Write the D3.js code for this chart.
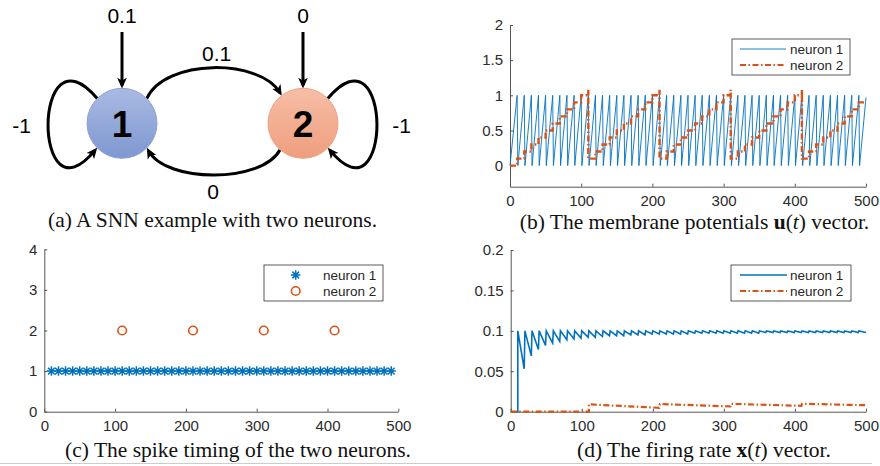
<!DOCTYPE html>
<html>
<head>
<meta charset="utf-8">
<script src="https://cdn.jsdelivr.net/npm/d3@7"></script>
<style>
  body { margin: 0; background: #fff; }
  svg { display: block; }
</style>
</head>
<body>
<svg id="fig" width="880" height="466"></svg>
<script>
// ---- data ----
const timeTicks = [0, 100, 200, 300, 400, 500];
const seriesNames = ["neuron 1", "neuron 2"];

// spike times (panel c)
const spikes1 = [10, 20, 30, 40, 50, 60, 70, 80, 90, 100, 110, 120, 130, 140, 150, 160, 170, 180, 190, 200,
  210, 220, 230, 240, 250, 260, 270, 280, 290, 300, 310, 320, 330, 340, 350, 360, 370, 380, 390, 400,
  410, 420, 430, 440, 450, 460, 470, 480, 490];
const spikes2 = [110, 210, 310, 410];
const spikeRow = [1, 2];

// membrane potential of neuron 2, one level per 10-step interval (panel b)
const u2Levels = [0, 0.1, 0.2, 0.3, 0.4, 0.5, 0.6, 0.7, 0.8, 0.9, 1.0,
  0.1, 0.2, 0.3, 0.4, 0.5, 0.6, 0.7, 0.8, 0.9, 1.0,
  0.1, 0.2, 0.3, 0.4, 0.5, 0.6, 0.7, 0.8, 0.9, 1.0,
  0.1, 0.2, 0.3, 0.4, 0.5, 0.6, 0.7, 0.8, 0.9, 1.0,
  0.1, 0.2, 0.3, 0.4, 0.5, 0.6, 0.7, 0.8, 0.9];
const u2Peak = 1.08;
const u1Peak = 1;
const u1End = 0.97;

// firing rate (panel d): neuron 1 peaks at 0.1 on each spike, low points just before the next one
const rate1Peak = 0.1;
const rate1Low = [0.053, 0.069, 0.077, 0.082, 0.085, 0.087, 0.089, 0.090, 0.091, 0.092,
  0.092, 0.093, 0.094, 0.094, 0.094, 0.095, 0.095, 0.095, 0.096, 0.096,
  0.096, 0.096, 0.096, 0.096, 0.097, 0.097, 0.097, 0.097, 0.097, 0.097,
  0.097, 0.097, 0.097, 0.097, 0.098, 0.098, 0.098, 0.098, 0.098, 0.098,
  0.098, 0.098, 0.098, 0.098, 0.098, 0.098, 0.098, 0.098];
const rate1End = 0.098;
const rate2High = [0.0091, 0.0095, 0.0097, 0.0098];
const rate2Low = [0.0048, 0.0065, 0.0073, 0.0080];

// panel (a) graph
const nodeIds = ["1", "2"];
const inputW = ["0.1", "0"];
const selfW = ["-1", "-1"];
const crossW = { "1->2": "0.1", "2->1": "0" };

// ---- styles ----
const blue = "#0072BD";
const orange = "#D95319";
const axisFont = "'Liberation Sans', Arial, Helvetica, sans-serif";
const serifFont = "'Liberation Serif', 'Times New Roman', serif";
const dashDot = "6,2.5,1.5,2.5";

const svg = d3.select("#fig");

// MATLAB-like axes: ticks pointing inward, no box
function drawAxes(g, x, y, yTicks) {
  const xa = g.append("g")
    .attr("transform", `translate(0,${y.range()[0]})`)
    .call(d3.axisBottom(x).tickValues(timeTicks).tickFormat(d => String(d))
      .tickSizeInner(-3).tickSizeOuter(0).tickPadding(9));
  const ya = g.append("g")
    .attr("transform", `translate(${x.range()[0]},0)`)
    .call(d3.axisLeft(y).tickValues(yTicks).tickFormat(d => String(d))
      .tickSizeInner(-3).tickSizeOuter(0).tickPadding(7));
  [xa, ya].forEach(a => {
    a.select(".domain").attr("stroke", "#555").attr("stroke-width", 1);
    a.selectAll(".tick line").attr("stroke", "#555");
    a.selectAll("text").attr("fill", "#2b2b2b").style("font-family", axisFont).style("font-size", "15px");
  });
}

function legend(g, x0, y0, w, h, textX, rows) {
  g.append("rect").attr("x", x0).attr("y", y0).attr("width", w).attr("height", h)
    .attr("fill", "#fff").attr("stroke", "#333").attr("stroke-width", 0.8);
  rows.forEach((draw, i) => {
    const yy = y0 + 10 + i * 16;
    draw(g, yy);
    g.append("text").attr("x", textX).attr("y", yy + 4.5).text(seriesNames[i])
      .attr("fill", "#262626").style("font-family", axisFont).style("font-size", "13.5px");
  });
}

function caption(x, y, parts) {
  const t = svg.append("text").attr("x", x).attr("y", y).attr("text-anchor", "middle")
    .style("font-family", serifFont).style("font-size", "21.5px").attr("fill", "#111");
  parts.forEach(p => {
    const s = t.append("tspan").text(p.t);
    if (p.b) s.style("font-weight", "bold");
    if (p.i) s.style("font-style", "italic");
  });
}

// ================= panel (a) =================
(function panelA() {
  const g = svg.append("g");
  const nx = d3.scalePoint().domain(nodeIds).range([122, 303]);
  const cy = 123.3, R = 35;
  const pt = (id, deg, r) => [nx(id) + r * Math.cos(deg * Math.PI / 180), cy + r * Math.sin(deg * Math.PI / 180)];

  const defs = svg.append("defs");
  defs.append("marker").attr("id", "arr").attr("viewBox", "0 0 10 10")
    .attr("refX", 7).attr("refY", 5).attr("markerWidth", 3.6).attr("markerHeight", 3.6)
    .attr("orient", "auto")
    .append("path").attr("d", "M0,0.5 L10,5 L0,9.5 L2.5,5 z").attr("fill", "#000");
  const grads = [["g1", "#a9bae3", "#7f98d1"], ["g2", "#f6bea7", "#ef9e7e"]];
  grads.forEach(([id, c0, c1]) => {
    const lg = defs.append("linearGradient").attr("id", id).attr("x1", 0).attr("y1", 0).attr("x2", 0).attr("y2", 1);
    lg.append("stop").attr("offset", "0%").attr("stop-color", c0);
    lg.append("stop").attr("offset", "100%").attr("stop-color", c1);
  });

  const edge = (d) => g.append("path").attr("d", d).attr("fill", "none")
    .attr("stroke", "#000").attr("stroke-width", 3).attr("marker-end", "url(#arr)");

  // input arrows from above
  nodeIds.forEach(id => {
    const p = d3.path();
    p.moveTo(nx(id), 32);
    p.lineTo(nx(id), cy - R - 3);
    edge(p.toString());
  });

  // self loops
  nodeIds.forEach((id, i) => {
    const s = i === 0 ? -1 : 1;
    const a = pt(id, i === 0 ? 225 : -45, R);
    const b = pt(id, i === 0 ? 135 : 45, R + 3);
    const p = d3.path();
    p.moveTo(a[0], a[1]);
    p.bezierCurveTo(nx(id) + s * 90, cy - 102, nx(id) + s * 90, cy + 104, b[0], b[1]);
    edge(p.toString());
  });

  // 1 -> 2 over the top
  {
    const a = pt("1", -45, R), b = pt("2", -127, R + 3);
    const p = d3.path();
    p.moveTo(a[0], a[1]);
    p.bezierCurveTo(nx("1") + 43, cy - 65, nx("2") - 43, cy - 65, b[0], b[1]);
    edge(p.toString());
  }
  // 2 -> 1 underneath
  {
    const a = pt("2", 131, R), b = pt("1", 46, R + 3);
    const p = d3.path();
    p.moveTo(a[0], a[1]);
    p.bezierCurveTo(nx("2") - 41, cy + 60, nx("1") + 44, cy + 60, b[0], b[1]);
    edge(p.toString());
  }

  // nodes
  nodeIds.forEach((id, i) => {
    g.append("circle").attr("cx", nx(id)).attr("cy", cy).attr("r", R)
      .attr("fill", `url(#g${i + 1})`).attr("stroke", i === 0 ? "#8ea2d6" : "#f0a284").attr("stroke-width", 1);
    g.append("text").attr("x", nx(id)).attr("y", cy + 13.4).attr("text-anchor", "middle")
      .text(id).style("font-family", axisFont).style("font-weight", "bold").style("font-size", "37px")
      .attr("fill", "#000");
  });

  const lab = (x, y, t) => g.append("text").attr("x", x).attr("y", y).attr("text-anchor", "middle")
    .text(t).style("font-family", axisFont).style("font-size", "21px").attr("fill", "#000");
  nodeIds.forEach((id, i) => lab(nx(id), 22.5, inputW[i]));
  lab(21.7, 132.5, selfW[0]);
  lab(401.7, 132.5, selfW[1]);
  lab(216.7, 60.5, crossW["1->2"]);
  lab(213, 199, crossW["2->1"]);

  caption(212.5, 227, [{ t: "(a) A SNN example with two neurons." }]);
})();

// ================= panel (b) =================
(function panelB() {
  const g = svg.append("g");
  const x = d3.scaleLinear().domain([0, 500]).range([510, 866]);
  const y = d3.scaleLinear().domain([-0.3, 2]).range([186.7, 25]);
  drawAxes(g, x, y, [0, 0.5, 1, 1.5, 2]);

  // neuron 1: sawtooth built from spike times
  const u1 = [[0, 0]];
  spikes1.forEach(t => { u1.push([t, u1Peak]); u1.push([t + 1, 0]); });
  u1.push([500, u1End]);
  const line = d3.line().x(d => x(d[0])).y(d => y(d[1]));
  g.append("path").attr("d", line(u1)).attr("fill", "none")
    .attr("stroke", blue).attr("stroke-width", 0.9);

  // neuron 2: staircase
  const u2 = [];
  u2Levels.forEach((v, k) => {
    const t0 = k * 10;
    if (spikes2.includes(t0)) u2.push([t0, u2Peak]);
    u2.push([t0, v]);
    u2.push([t0 + 10, v]);
  });
  g.append("path").attr("d", line(u2)).attr("fill", "none")
    .attr("stroke", orange).attr("stroke-width", 2.4).attr("stroke-dasharray", dashDot);

  legend(g, 732, 39, 118, 36, 790, [
    (gg, yy) => gg.append("line").attr("x1", 740).attr("x2", 786).attr("y1", yy).attr("y2", yy).attr("stroke", blue).attr("stroke-width", 0.9),
    (gg, yy) => gg.append("line").attr("x1", 740).attr("x2", 786).attr("y1", yy).attr("y2", yy).attr("stroke", orange).attr("stroke-width", 2.2).attr("stroke-dasharray", dashDot)
  ]);

  caption(694.5, 228.5, [{ t: "(b) The membrane potentials " }, { t: "u", b: true }, { t: "(" }, { t: "t", i: true }, { t: ")  vector." }]);
})();

// ================= panel (c) =================
(function panelC() {
  const g = svg.append("g");
  const x = d3.scaleLinear().domain([0, 500]).range([44.3, 398.3]);
  const y = d3.scaleLinear().domain([0, 4]).range([411.7, 249.3]);
  drawAxes(g, x, y, [0, 1, 2, 3, 4]);

  const star = {
    draw(ctx, size) {
      const r = Math.sqrt(size) / 2;
      const d = r * Math.SQRT1_2;
      ctx.moveTo(0, -r); ctx.lineTo(0, r);
      ctx.moveTo(-r, 0); ctx.lineTo(r, 0);
      ctx.moveTo(-d, -d); ctx.lineTo(d, d);
      ctx.moveTo(-d, d); ctx.lineTo(d, -d);
    }
  };
  const starPath = d3.symbol().type(star).size(90)();

  g.selectAll(".s1").data(spikes1).join("path").attr("class", "s1")
    .attr("transform", d => `translate(${x(d)},${y(spikeRow[0])})`)
    .attr("d", starPath).attr("fill", "none").attr("stroke", blue).attr("stroke-width", 1.5);
  g.selectAll(".s2").data(spikes2).join("circle").attr("class", "s2")
    .attr("cx", d => x(d)).attr("cy", y(spikeRow[1])).attr("r", 4.3)
    .attr("fill", "none").attr("stroke", orange).attr("stroke-width", 1.6);

  legend(g, 264, 265, 119, 36, 323, [
    (gg, yy) => gg.append("path").attr("transform", `translate(295.7,${yy})`).attr("d", starPath).attr("fill", "none").attr("stroke", blue).attr("stroke-width", 1.5),
    (gg, yy) => gg.append("circle").attr("cx", 295.7).attr("cy", yy).attr("r", 4.3).attr("fill", "none").attr("stroke", orange).attr("stroke-width", 1.6)
  ]);

  caption(238, 457, [{ t: "(c) The spike timing of the two neurons." }]);
})();

// ================= panel (d) =================
(function panelD() {
  const g = svg.append("g");
  const x = d3.scaleLinear().domain([0, 500]).range([510.7, 866]);
  const y = d3.scaleLinear().domain([0, 0.2]).range([411.7, 250]);
  drawAxes(g, x, y, [0, 0.05, 0.1, 0.15, 0.2]);

  const r1 = [[0, 0], [spikes1[0], 0], [spikes1[0], rate1Peak]];
  rate1Low.forEach((v, i) => {
    r1.push([spikes1[i + 1] - 1, v]);
    r1.push([spikes1[i + 1], rate1Peak]);
  });
  r1.push([500, rate1End]);

  const r2 = [[0, 0], [spikes2[0], 0]];
  rate2High.forEach((v, i) => {
    r2.push([spikes2[i], v]);
    r2.push([i + 1 < spikes2.length ? spikes2[i + 1] - 1 : 500, rate2Low[i]]);
  });

  const line = d3.line().x(d => x(d[0])).y(d => y(d[1]));
  g.append("path").attr("d", line(r1)).attr("fill", "none")
    .attr("stroke", blue).attr("stroke-width", 1.6);
  g.append("path").attr("d", line(r2)).attr("fill", "none")
    .attr("stroke", orange).attr("stroke-width", 2.2).attr("stroke-dasharray", dashDot);

  legend(g, 731, 265, 120, 36, 790, [
    (gg, yy) => gg.append("line").attr("x1", 740).attr("x2", 787).attr("y1", yy).attr("y2", yy).attr("stroke", blue).attr("stroke-width", 1.6),
    (gg, yy) => gg.append("line").attr("x1", 740).attr("x2", 787).attr("y1", yy).attr("y2", yy).attr("stroke", orange).attr("stroke-width", 2.2).attr("stroke-dasharray", dashDot)
  ]);

  caption(704, 457, [{ t: "(d) The firing rate " }, { t: "x", b: true }, { t: "(" }, { t: "t", i: true }, { t: ")  vector." }]);
})();

// thin rule along the bottom edge
svg.append("line").attr("x1", 0).attr("x2", 872).attr("y1", 463.5).attr("y2", 463.5)
  .attr("stroke", "#ccc").attr("stroke-width", 1);
</script>
</body>
</html>
